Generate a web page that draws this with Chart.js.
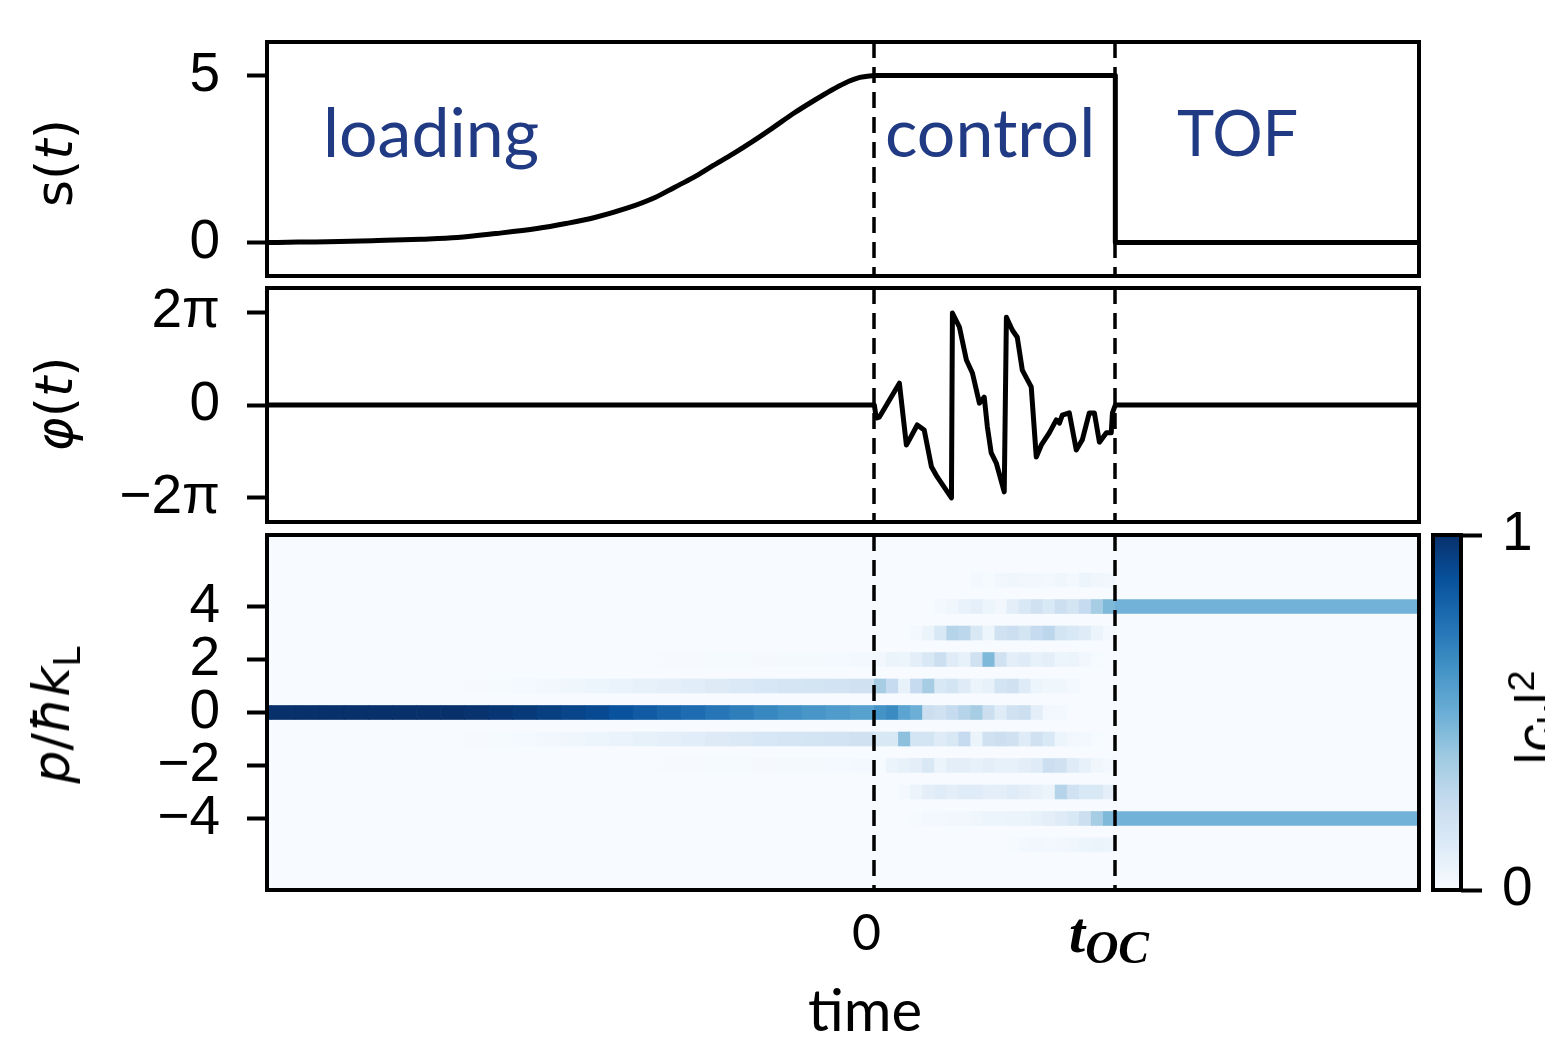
<!DOCTYPE html>
<html>
<head>
<meta charset="utf-8">
<script src="https://cdn.jsdelivr.net/npm/chart.js"></script>
<style>
  body { margin: 0; width: 1545px; height: 1046px; overflow: hidden; background: #fff; position: relative; font-family: "Liberation Sans", Arial, sans-serif; }
  canvas { position: absolute; }
  .note { position: absolute; font-family: Lato, sans-serif; color: #203a84; font-size: 68px; line-height: 1; white-space: nowrap; }
  .xlab { position: absolute; font-family: Lato, sans-serif; color: #000; line-height: 1; white-space: nowrap; }
  .ylab { position: absolute; font-family: "DejaVu Sans", sans-serif; font-size: 52px; line-height: 52px; white-space: nowrap; transform: translate(-50%, -50%) rotate(-90deg); }
  .sub { position: relative; font-size: 0.7em; top: 0.3em; }
  .sup { position: relative; font-size: 0.7em; top: -0.5em; }
</style>
</head>
<body>
<canvas id="sChart" width="1545" height="390" style="left:0;top:-40px"></canvas>
<canvas id="phiChart" width="1545" height="400" style="left:0;top:200px"></canvas>
<canvas id="pChart" width="1545" height="586" style="left:0;top:460px"></canvas>
<canvas id="cbChart" width="145" height="510" style="left:1400px;top:460px"></canvas>

<div class="note" style="left:323px;top:97px">loading</div>
<div class="note" style="left:885px;top:97px">control</div>
<div class="note" style="left:1177px;top:100px;font-size:63px">TOF</div>

<div class="ylab" style="left:54px;top:163px">s(<i>t</i>)</div>
<div class="ylab" style="left:54px;top:404px"><i>φ</i>(<i>t</i>)</div>
<div class="ylab" style="left:54px;top:715px"><i>p</i>/<i>ħk</i><span class="sub">L</span></div>
<div class="ylab" style="left:1537px;top:718px;font-family:'Liberation Sans',sans-serif;font-size:54px;line-height:54px">|<i>c</i><span class="sub">k</span>|<span class="sup">2</span></div>

<div class="xlab" style="left:852px;top:906px;font-size:50px">0</div>
<div class="xlab" style="left:1069px;top:904px;font-family:'Liberation Serif',serif;font-weight:bold;font-style:italic;font-size:58px">t<span style="position:relative;top:11px;font-size:46px">OC</span></div>
<div class="xlab" style="left:808px;top:980px;font-size:58px">time</div>

<script>
// time axis: 0 = start of control, T_OC = end of control
const T_MIN = -2.52;
const T_MAX = 2.26;
const T_OC = 1;

// s(t) lattice depth
const S_T = [-2.52, -2.39, -2.22, -2.06, -1.88, -1.73, -1.57, -1.40, -1.28, -1.16, -1.03, -0.91, -0.83, -0.75, -0.67, -0.585, -0.50, -0.42, -0.336, -0.25, -0.18, -0.125, -0.06, 0];
const S_VAL = [0, 0.015, 0.03, 0.06, 0.1, 0.15, 0.27, 0.42, 0.57, 0.75, 1.02, 1.35, 1.65, 1.95, 2.3, 2.66, 3.05, 3.44, 3.86, 4.25, 4.55, 4.76, 4.94, 5];
const S_HOLD_T = [0, 1, 1, 2.26];
const S_HOLD = [5, 5, 0, 0];
const S_TICKS = [0, 5];

// phase phi(t), in units of pi
const PHI_T = [-2.52, 0, 0.008, 0.021, 0.104, 0.133, 0.145, 0.178, 0.207, 0.237, 0.261, 0.320, 0.324, 0.353, 0.382, 0.407, 0.436, 0.456, 0.469, 0.485, 0.506, 0.539, 0.548, 0.573, 0.593, 0.614, 0.651, 0.672, 0.693, 0.726, 0.755, 0.768, 0.780, 0.809, 0.838, 0.863, 0.892, 0.913, 0.934, 0.963, 0.983, 0.988, 1.0, 2.26];
const PHI_VAL = [0, 0, -0.28, -0.26, 0.47, -0.86, -0.75, -0.43, -0.54, -1.33, -1.55, -2.0, 1.98, 1.68, 0.97, 0.69, 0.04, 0.17, -0.47, -1.03, -1.25, -1.87, 1.89, 1.61, 1.46, 0.75, 0.39, -1.12, -0.86, -0.60, -0.32, -0.39, -0.22, -0.17, -0.97, -0.75, -0.17, -0.17, -0.80, -0.60, -0.60, -0.17, 0, 0];
const PHI_TICKS = [-2, 0, 2];
const PHI_LABELS = ['−2π', '0', '2π'];

// momentum populations |c_k|^2
const P_TICKS = [-4, -2, 0, 2, 4];
const P_LABELS = ['−4', '−2', '0', '2', '4'];

const LOAD_T = [-2.6, -2.5, -2.4, -2.3, -2.2, -2.1, -2.0, -1.9, -1.8, -1.7, -1.6, -1.5, -1.4, -1.3, -1.2, -1.1, -1.0, -0.9, -0.8, -0.7, -0.6, -0.5, -0.4, -0.3, -0.2, -0.1];
const LOAD_DT = 0.1;
const LOAD_P0 = [1, 1, 1, 1, 1, 1, 1, 1, 1, 0.99, 0.98, 0.964, 0.944, 0.92, 0.9, 0.87, 0.836, 0.802, 0.768, 0.734, 0.70, 0.666, 0.632, 0.608, 0.584, 0.56];
const LOAD_P1 = [0, 0, 0, 0, 0, 0, 0, 0, 0, 0.005, 0.01, 0.018, 0.028, 0.04, 0.05, 0.065, 0.08, 0.095, 0.11, 0.125, 0.14, 0.155, 0.17, 0.18, 0.19, 0.2];
const LOAD_P2 = [0, 0, 0, 0, 0, 0, 0, 0, 0, 0, 0, 0, 0, 0, 0, 0, 0.002, 0.004, 0.006, 0.008, 0.01, 0.012, 0.014, 0.016, 0.018, 0.02];

const CTRL_T = [0, 0.05, 0.1, 0.15, 0.2, 0.25, 0.3, 0.35, 0.4, 0.45, 0.5, 0.55, 0.6, 0.65, 0.7, 0.75, 0.8, 0.85, 0.9, 0.95];
const CTRL_DT = 0.05;
const CTRL_P5 = [0, 0, 0, 0, 0, 0, 0, 0, 0.02, 0.01, 0.03, 0.04, 0.03, 0.03, 0.02, 0.04, 0.02, 0.05, 0.04, 0.03];
const CTRL_P4 = [0, 0, 0, 0, 0, 0.02, 0.04, 0.07, 0.09, 0.05, 0.03, 0.1, 0.15, 0.2, 0.15, 0.22, 0.18, 0.25, 0.35, 0.45];
const CTRL_P3 = [0, 0, 0, 0.02, 0.06, 0.15, 0.3, 0.28, 0.15, 0.05, 0.2, 0.22, 0.18, 0.25, 0.28, 0.18, 0.15, 0.12, 0.06, 0.02];
const CTRL_P2 = [0.03, 0.06, 0.05, 0.1, 0.15, 0.22, 0.12, 0.08, 0.2, 0.45, 0.2, 0.1, 0.12, 0.08, 0.1, 0.05, 0.06, 0.03, 0.01, 0];
const CTRL_P1 = [0.35, 0.25, 0.08, 0.25, 0.35, 0.15, 0.18, 0.12, 0.06, 0.08, 0.18, 0.2, 0.12, 0.05, 0.04, 0.04, 0.02, 0, 0, 0];
const CTRL_P0 = [0.62, 0.65, 0.55, 0.5, 0.22, 0.2, 0.25, 0.3, 0.35, 0.22, 0.12, 0.2, 0.22, 0.1, 0.03, 0.02, 0, 0, 0, 0];
const CTRL_M1 = [0.15, 0.15, 0.42, 0.18, 0.18, 0.12, 0.15, 0.25, 0.06, 0.2, 0.22, 0.2, 0.12, 0.2, 0.15, 0.05, 0.03, 0.02, 0.01, 0];
const CTRL_M2 = [0.01, 0.06, 0.08, 0.1, 0.15, 0.06, 0.1, 0.1, 0.08, 0.1, 0.08, 0.08, 0.1, 0.12, 0.22, 0.2, 0.12, 0.08, 0.04, 0.02];
const CTRL_M3 = [0, 0, 0.02, 0.06, 0.1, 0.12, 0.1, 0.12, 0.12, 0.1, 0.1, 0.12, 0.1, 0.08, 0.06, 0.3, 0.2, 0.15, 0.15, 0.1];
const CTRL_M4 = [0, 0, 0, 0.01, 0.02, 0.02, 0.03, 0.03, 0.04, 0.05, 0.05, 0.06, 0.06, 0.08, 0.1, 0.12, 0.15, 0.22, 0.35, 0.45];
const CTRL_M5 = [0, 0, 0, 0, 0, 0, 0, 0, 0, 0, 0, 0.01, 0.02, 0.03, 0.02, 0.03, 0.04, 0.05, 0.06, 0.05];

const TOF_T = [1];
const TOF_DT = 1.3;
const TOF_P4 = [0.48];
const TOF_M4 = [0.48];

// matplotlib "Blues"
const BLUES = ['#f7fbff', '#deebf7', '#c6dbef', '#9ecae1', '#6baed6', '#4292c6', '#2171b5', '#08519c', '#08306b'];

function hexRgb(h) {
    return [parseInt(h.slice(1, 3), 16), parseInt(h.slice(3, 5), 16), parseInt(h.slice(5, 7), 16)];
}

function blues(v) {
    const s = Math.min(Math.max(v, 0), 1) * 8;
    const i = Math.min(Math.floor(s), 7);
    const f = s - i;
    const a = hexRgb(BLUES[i]), b = hexRgb(BLUES[i + 1]);
    const c = a.map((x, k) => Math.round(x + (b[k] - x) * f));
    return `rgb(${c[0]},${c[1]},${c[2]})`;
}

const cells = [];
function addRow(starts, width, p, vals) {
    vals.forEach((v, i) => {
        if (v > 0) cells.push({ x: [starts[i], starts[i] + width], y: p, v: v });
    });
}
addRow(LOAD_T, LOAD_DT, 0, LOAD_P0);
addRow(LOAD_T, LOAD_DT, 1, LOAD_P1);
addRow(LOAD_T, LOAD_DT, -1, LOAD_P1);
addRow(LOAD_T, LOAD_DT, 2, LOAD_P2);
addRow(LOAD_T, LOAD_DT, -2, LOAD_P2);
[[5, CTRL_P5], [4, CTRL_P4], [3, CTRL_P3], [2, CTRL_P2], [1, CTRL_P1], [0, CTRL_P0],
 [-1, CTRL_M1], [-2, CTRL_M2], [-3, CTRL_M3], [-4, CTRL_M4], [-5, CTRL_M5]].forEach(r => addRow(CTRL_T, CTRL_DT, r[0], r[1]));
addRow(TOF_T, TOF_DT, 4, TOF_P4);
addRow(TOF_T, TOF_DT, -4, TOF_M4);

const tickFont = { family: '"Liberation Sans", Arial, sans-serif', size: 55 };
const LW = 4;

const framePlugin = {
    id: 'frame',
    afterDraw(chart) {
        const { ctx, chartArea: a } = chart;
        ctx.save();
        ctx.strokeStyle = '#000';
        ctx.lineWidth = LW;
        ctx.strokeRect(a.left, a.top, a.right - a.left, a.bottom - a.top);
        ctx.restore();
    }
};

const dashPlugin = {
    id: 'dash',
    afterDatasetsDraw(chart) {
        const { ctx, chartArea: a, scales } = chart;
        ctx.save();
        ctx.strokeStyle = '#000';
        ctx.lineWidth = 3.5;
        ctx.setLineDash([16, 9]);
        [0, T_OC].forEach(t => {
            const px = Math.round(scales.x.getPixelForValue(t));
            ctx.beginPath();
            ctx.moveTo(px, a.top);
            ctx.lineTo(px, a.bottom);
            ctx.stroke();
        });
        ctx.restore();
    }
};

const heatBg = {
    id: 'heatBg',
    beforeDatasetsDraw(chart) {
        const { ctx, chartArea: a } = chart;
        ctx.save();
        ctx.fillStyle = BLUES[0];
        ctx.fillRect(a.left, a.top, a.right - a.left, a.bottom - a.top);
        ctx.restore();
    }
};

function yAxis(min, max, ticks, labels) {
    return {
        type: 'linear',
        min: min,
        max: max,
        offset: false,
        afterFit: s => { s.width = 267; },
        afterBuildTicks: s => { s.ticks = ticks.map(v => ({ value: v })); },
        ticks: {
            font: tickFont,
            color: '#000',
            padding: 27,
            callback: (v, i) => labels[i]
        },
        grid: { offset: false, drawOnChartArea: false, tickLength: 20, tickWidth: LW, tickColor: '#000' },
        border: { display: false }
    };
}

const xHidden = { type: 'linear', min: T_MIN, max: T_MAX, display: false };
const common = {
    responsive: false,
    animation: false,
    plugins: { legend: { display: false }, tooltip: { enabled: false } }
};
const lineStyle = {
    borderColor: '#000',
    borderWidth: 5,
    borderJoinStyle: 'round',
    pointRadius: 0,
    fill: false
};

new Chart(document.getElementById('sChart'), {
    type: 'line',
    data: {
        datasets: [
            { ...lineStyle, data: S_T.map((t, i) => ({ x: t, y: S_VAL[i] })), cubicInterpolationMode: 'monotone' },
            { ...lineStyle, data: S_HOLD_T.map((t, i) => ({ x: t, y: S_HOLD[i] })), tension: 0 }
        ]
    },
    options: {
        ...common,
        layout: { padding: { left: 0, right: 126, top: 82, bottom: 74 } },
        scales: { x: xHidden, y: yAxis(-1, 6, S_TICKS, S_TICKS.map(String)) }
    },
    plugins: [dashPlugin, framePlugin]
});

new Chart(document.getElementById('phiChart'), {
    type: 'line',
    data: {
        datasets: [{ ...lineStyle, data: PHI_T.map((t, i) => ({ x: t, y: PHI_VAL[i] })), tension: 0 }]
    },
    options: {
        ...common,
        layout: { padding: { left: 0, right: 126, top: 88, bottom: 78 } },
        scales: { x: xHidden, y: yAxis(-2.52, 2.52, PHI_TICKS, PHI_LABELS) }
    },
    plugins: [dashPlugin, framePlugin]
});

new Chart(document.getElementById('pChart'), {
    type: 'bar',
    data: {
        datasets: [{
            data: cells,
            backgroundColor: cells.map(c => blues(c.v)),
            borderWidth: 0,
            barThickness: 14
        }]
    },
    options: {
        ...common,
        indexAxis: 'y',
        layout: { padding: { left: 0, right: 126, top: 75, bottom: 156 } },
        scales: { x: xHidden, y: yAxis(-6.7, 6.7, P_TICKS, P_LABELS) }
    },
    plugins: [heatBg, dashPlugin, framePlugin]
});

new Chart(document.getElementById('cbChart'), {
    type: 'bar',
    data: {
        labels: ['|c_k|²'],
        datasets: [{
            data: [[0, 1]],
            borderWidth: 0,
            barPercentage: 1,
            categoryPercentage: 1,
            backgroundColor: (c) => {
                const a = c.chart.chartArea;
                if (!a) return BLUES[4];
                const g = c.chart.ctx.createLinearGradient(0, a.bottom, 0, a.top);
                BLUES.forEach((col, i) => g.addColorStop(i / (BLUES.length - 1), col));
                return g;
            }
        }]
    },
    options: {
        ...common,
        layout: { padding: { left: 33, right: 0, top: 75, bottom: 80 } },
        scales: {
            x: { display: false },
            y: {
                position: 'right',
                min: 0,
                max: 1,
                afterFit: s => { s.width = 84; },
                afterBuildTicks: s => { s.ticks = [{ value: 0 }, { value: 1 }]; },
                ticks: { font: tickFont, color: '#000', padding: 20 },
                grid: { drawOnChartArea: false, tickLength: 21, tickWidth: LW, tickColor: '#000' },
                border: { display: false }
            }
        }
    },
    plugins: [framePlugin]
});
</script>
</body>
</html>
